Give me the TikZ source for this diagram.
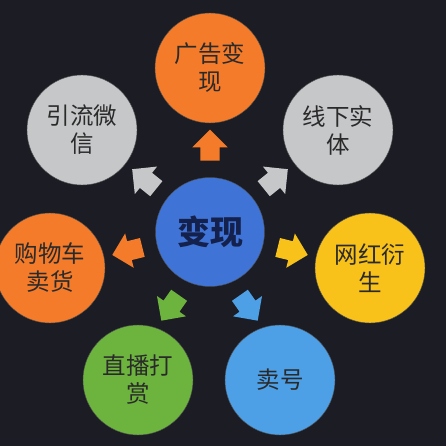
\documentclass[tikz,border=0pt]{standalone}
\usepackage{fontspec}
\usepackage{tikz}
\usetikzlibrary{shapes.arrows}
\newfontfamily\cjk{Noto Sans CJK SC}
\definecolor{bgdark}{HTML}{1C1D24}
\definecolor{ccorange}{HTML}{F47B2A}
\definecolor{ccgray}{HTML}{C6C7C9}
\definecolor{ccyellow}{HTML}{F8C21A}
\definecolor{ccgreen}{HTML}{6DB43F}
\definecolor{cclblue}{HTML}{4D9FE6}
\definecolor{ccblue}{HTML}{3F74D6}
\definecolor{cctext}{HTML}{2A2A2A}
\definecolor{ccnavy}{HTML}{15214D}
\tikzstyle{ball} = [circle,minimum size=110pt,inner sep=0pt,draw=black!70,thin,
  text=cctext,align=center,font=\cjk\fontsize{23.5}{28}\selectfont]
\tikzstyle{blockarrow} = [single arrow,draw=none,minimum height=31pt,
  inner xsep=0pt,inner ysep=9.5pt,single arrow head extend=8pt]

\begin{document}
\begin{tikzpicture}[x=1pt,y=-1pt]

% background
\fill[bgdark] (0,0) rectangle (446,446);
\useasboundingbox (0,0) rectangle (446,446);

% centre
\node[ball,fill=ccblue,minimum size=109pt,text=ccnavy,
  font=\cjk\bfseries\fontsize{33}{38}\selectfont] (core) at (210,232) {变现};

% outer circles
\node[ball,fill=ccorange] (ad)    at (210,68)  {广告变\\现};
\node[ball,fill=ccgray]   (wx)    at (82,130)  {引流微\\信};
\node[ball,fill=ccgray]   (shop)  at (338,130) {线下实\\体};
\node[ball,fill=ccorange] (cart)  at (50,268)  {购物车\\卖货};
\node[ball,fill=ccyellow] (star)  at (370,268) {网红衍\\生};
\node[ball,fill=ccgreen]  (live)  at (138,380) {直播打\\赏};
\node[ball,fill=cclblue]  (sell)  at (280,380) {卖号};

% arrows
\node[blockarrow,fill=ccorange,rotate=90]  (a1) at (210,150) {};
\node[blockarrow,fill=ccgray,rotate=141]   (a2) at (148,182) {};
\node[blockarrow,fill=ccgray,rotate=39]    (a3) at (272,182) {};
\node[blockarrow,fill=ccorange,rotate=194] (a4) at (132,250) {};
\node[blockarrow,fill=ccyellow,rotate=-14] (a5) at (288,250) {};
\node[blockarrow,fill=ccgreen,rotate=235]  (a6) at (173,304) {};
\node[blockarrow,fill=cclblue,rotate=-55]  (a7) at (246,304) {};

\end{tikzpicture}
\end{document}
